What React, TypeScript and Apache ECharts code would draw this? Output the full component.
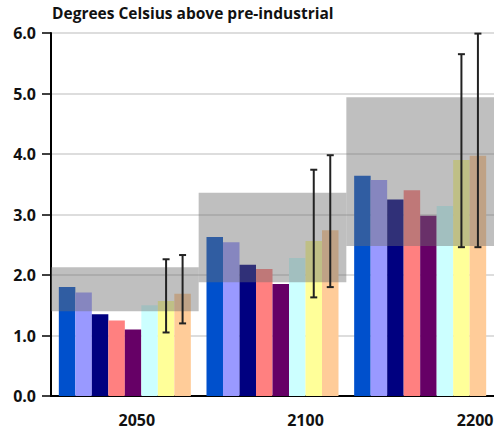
import React, { useEffect, useRef } from "react";
import * as echarts from "echarts";

const categories = ["2050", "2100", "2200"];
const yTicks = [0, 1, 2, 3, 4, 5, 6];
const titleText = "Degrees Celsius above pre-industrial";

const seriesA = [1.8, 2.63, 3.64];
const seriesB = [1.71, 2.54, 3.57];
const seriesC = [1.35, 2.17, 3.25];
const seriesD = [1.25, 2.1, 3.4];
const seriesE = [1.1, 1.85, 2.98];
const seriesF = [1.5, 2.28, 3.14];
const seriesG = [1.57, 2.56, 3.9];
const seriesH = [1.69, 2.74, 3.97];

const rangeLow = [1.4, 1.88, 2.48];
const rangeHigh = [2.13, 3.36, 4.94];

const errGLow = [1.05, 1.63, 2.46];
const errGHigh = [2.26, 3.74, 5.65];
const errHLow = [1.2, 1.8, 2.46];
const errHHigh = [2.33, 3.98, 5.99];

const barSeriesData = [seriesA, seriesB, seriesC, seriesD, seriesE, seriesF, seriesG, seriesH];
const barColors = ["#0050cc", "#9999ff", "#000080", "#ff8080", "#660066", "#ccffff", "#ffff99", "#ffcc99"];

const CAT_GAP = 0.106;
const FONT = "'Open Sans', 'Noto Sans', sans-serif";

export default function App() {
  const ref = useRef<HTMLDivElement>(null);
  useEffect(() => {
    if (!ref.current) return;
    const chart = echarts.init(ref.current, null, { renderer: "svg" });

    const errRender = (k: number) => (params: any, api: any) => {
      const ci = api.value(0);
      const lo = api.coord([ci, api.value(1)]);
      const hi = api.coord([ci, api.value(2)]);
      const band = api.size([1, 0])[0];
      const bw = (band * (1 - CAT_GAP)) / barSeriesData.length;
      const x = lo[0] + (k - (barSeriesData.length - 1) / 2) * bw;
      const style = { stroke: "#222", lineWidth: 2 };
      return {
        type: "group",
        children: [
          { type: "line", shape: { x1: x, y1: lo[1], x2: x, y2: hi[1] }, style },
          { type: "line", shape: { x1: x - 3.5, y1: lo[1], x2: x + 3.5, y2: lo[1] }, style },
          { type: "line", shape: { x1: x - 3.5, y1: hi[1], x2: x + 3.5, y2: hi[1] }, style },
        ],
      };
    };

    const labelStyle = { fontSize: 16, fontWeight: "bold", fontFamily: FONT, color: "#111" };

    const option: any = {
      animation: false,
      backgroundColor: "#ffffff",
      title: {
        text: titleText,
        left: 52,
        top: 5,
        padding: 0,
        textStyle: { fontSize: 15.5, fontWeight: "bold", fontFamily: FONT, color: "#111" },
      },
      grid: { left: 51, right: 0, top: 33, bottom: 41, containLabel: false, outerBoundsMode: "none" },
      xAxis: {
        type: "category",
        data: categories,
        axisLine: { show: true, lineStyle: { color: "#000", width: 2 } },
        axisTick: { show: false },
        axisLabel: {
          margin: 16,
          formatter: (v: string) => {
            const i = categories.indexOf(v);
            return `{l${i}|${v}}`;
          },
          rich: {
            l0: { padding: [0, 0, 0, 24], ...labelStyle },
            l1: { padding: [0, 0, 0, 66], ...labelStyle },
            l2: { padding: [0, 0, 0, 110], ...labelStyle },
          },
        },
      },
      yAxis: {
        type: "value",
        min: yTicks[0],
        max: yTicks[yTicks.length - 1],
        interval: 1,
        axisLine: { show: true, lineStyle: { color: "#000", width: 2 } },
        axisTick: { show: true, length: 9, lineStyle: { color: "#000", width: 1.5 } },
        axisLabel: {
          margin: 15,
          ...labelStyle,
          formatter: (v: number) => v.toFixed(1),
        },
        splitLine: { show: true, lineStyle: { color: "#d2d2d2", width: 1.5 } },
      },
      series: [
        ...barSeriesData.map((d, i) => ({
          type: "bar",
          data: d,
          barGap: "0%",
          barCategoryGap: CAT_GAP * 100 + "%",
          itemStyle: { color: barColors[i] },
          z: 2,
        })),
        {
          type: "custom",
          z: 5,
          data: categories.map((_, i) => [i, rangeLow[i], rangeHigh[i]]),
          encode: { x: 0, y: [1, 2] },
          renderItem: (params: any, api: any) => {
            const ci = api.value(0);
            const lo = api.coord([ci, api.value(1)]);
            const hi = api.coord([ci, api.value(2)]);
            const band = api.size([1, 0])[0];
            return {
              type: "rect",
              shape: { x: lo[0] - band / 2, y: hi[1], width: band, height: lo[1] - hi[1] },
              style: { fill: "rgba(110,110,110,0.44)" },
            };
          },
        },
        {
          type: "custom",
          z: 6,
          data: categories.map((_, i) => [i, errGLow[i], errGHigh[i]]),
          encode: { x: 0, y: [1, 2] },
          renderItem: errRender(6),
        },
        {
          type: "custom",
          z: 6,
          data: categories.map((_, i) => [i, errHLow[i], errHHigh[i]]),
          encode: { x: 0, y: [1, 2] },
          renderItem: errRender(7),
        },
      ],
    };
    chart.setOption(option);
    return () => chart.dispose();
  }, []);
  return (
    <div
      ref={ref}
      style={{ position: "fixed", left: 0, top: 0, width: 494, height: 437, background: "#fff" }}
    />
  );
}
